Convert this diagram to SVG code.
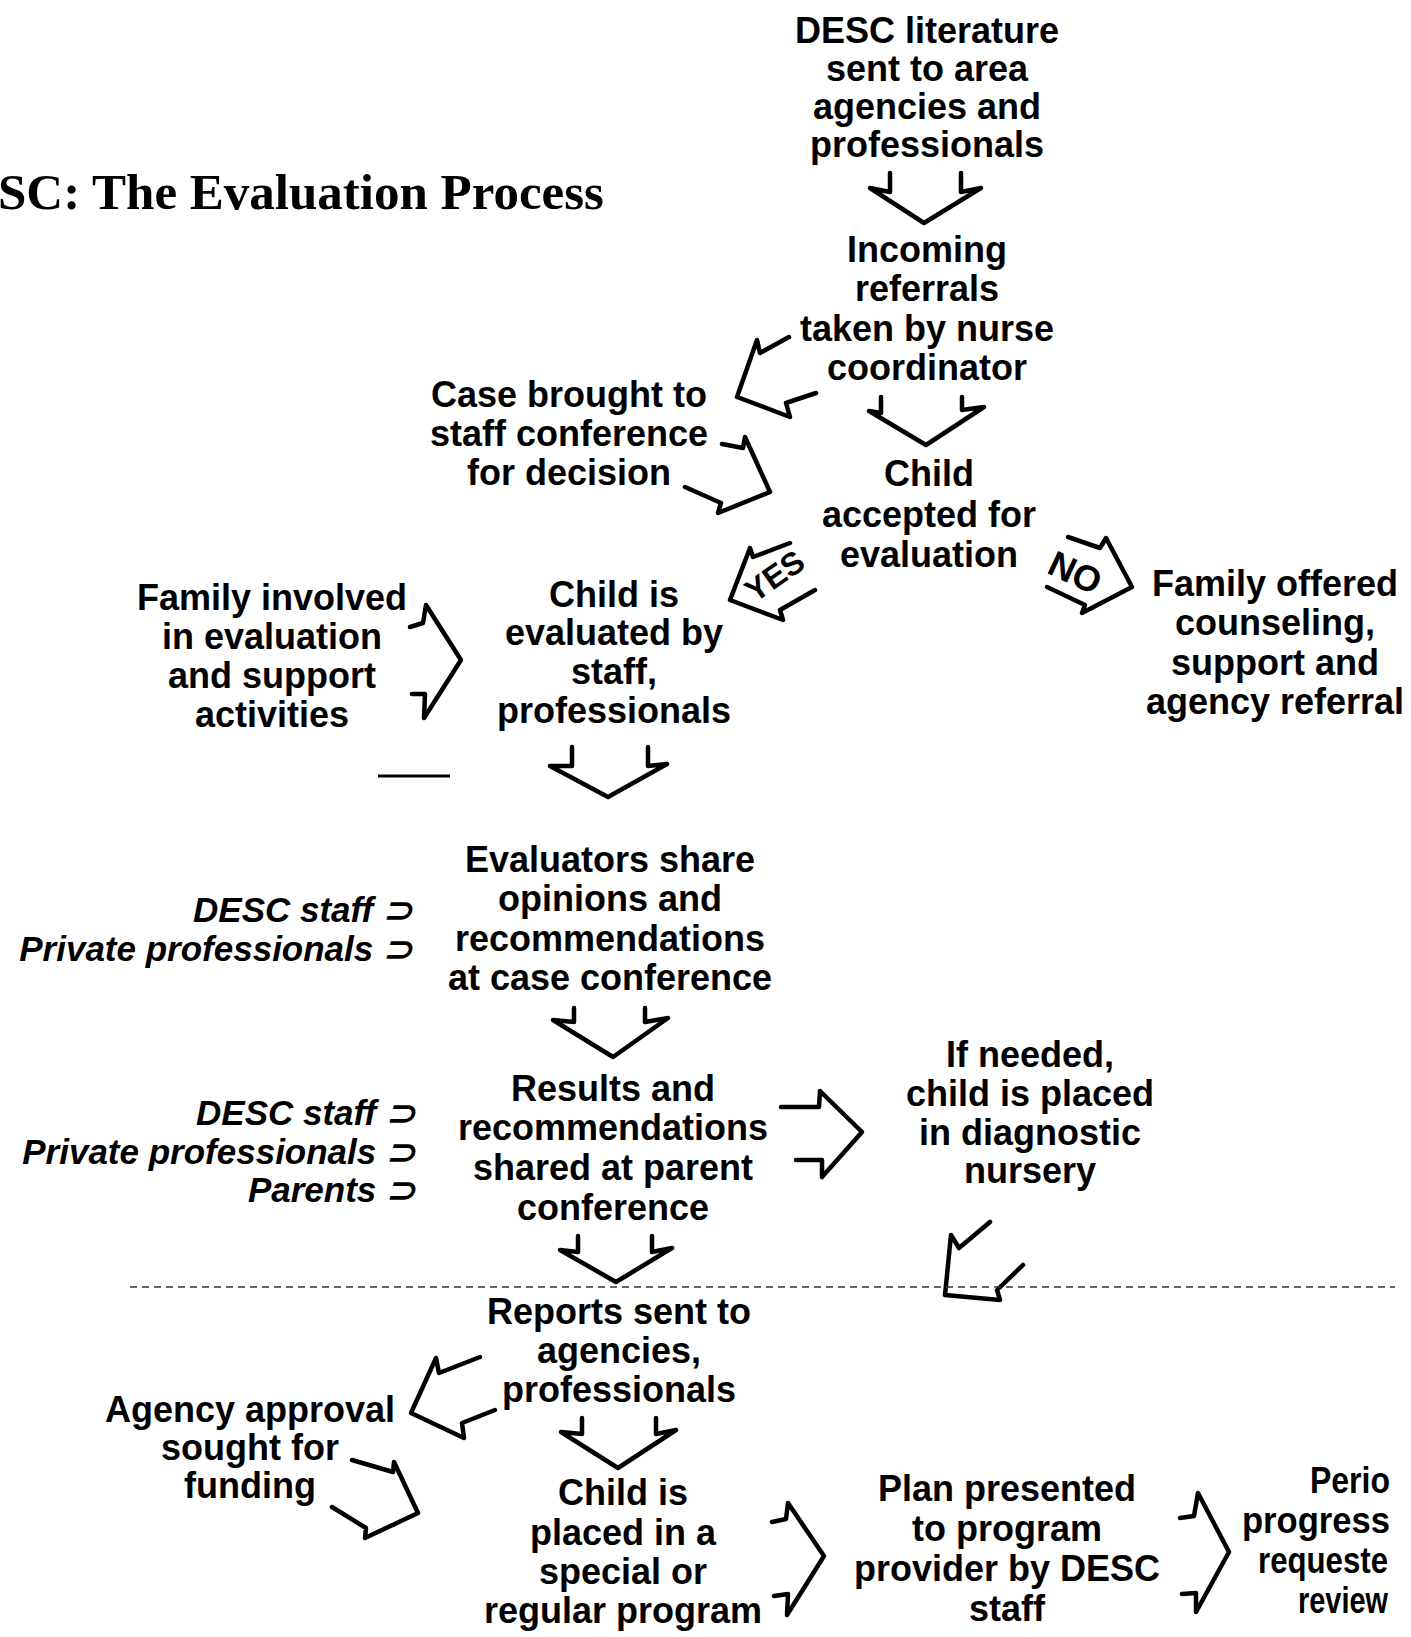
<svg xmlns="http://www.w3.org/2000/svg" width="1411" height="1637" viewBox="0 0 1411 1637">
<style>
.t{font-family:"Liberation Sans",Arial,sans-serif;font-weight:bold;font-size:36px;fill:#000;text-anchor:middle}
.l{text-anchor:start}
.i{font-family:"Liberation Sans",Arial,sans-serif;font-weight:bold;font-style:italic;font-size:35px;fill:#000;text-anchor:end}
.title{font-family:"Liberation Serif","Times New Roman",serif;font-weight:bold;font-size:51px;fill:#000}
.a{fill:none;stroke:#000;stroke-width:4.5;stroke-linejoin:round;stroke-linecap:round}
.lab{font-family:"Liberation Sans",Arial,sans-serif;font-weight:bold;fill:#000;text-anchor:middle}
.fold{fill:none;stroke:#333;stroke-width:1.5;stroke-dasharray:7 5}
</style>
<rect width="1411" height="1637" fill="#fff"/>
<text class="title" x="-2" y="209">SC: The Evaluation Process</text>

<g id="n-literature"><text class="t" x="927" y="43">DESC literature</text><text class="t" x="927" y="81">sent to area</text><text class="t" x="927" y="119">agencies and</text><text class="t" x="927" y="157">professionals</text></g>
<g id="n-incoming"><text class="t" x="927" y="262">Incoming</text><text class="t" x="927" y="301">referrals</text><text class="t" x="927" y="341">taken by nurse</text><text class="t" x="927" y="380">coordinator</text></g>
<g id="n-case"><text class="t" x="569" y="407">Case brought to</text><text class="t" x="569" y="446">staff conference</text><text class="t" x="569" y="485">for decision</text></g>
<g id="n-accepted"><text class="t" x="929" y="486">Child</text><text class="t" x="929" y="527">accepted for</text><text class="t" x="929" y="567">evaluation</text></g>
<g id="n-family"><text class="t" x="272" y="610">Family involved</text><text class="t" x="272" y="649">in evaluation</text><text class="t" x="272" y="688">and support</text><text class="t" x="272" y="727">activities</text></g>
<g id="n-evaluated"><text class="t" x="614" y="607">Child is</text><text class="t" x="614" y="645">evaluated by</text><text class="t" x="614" y="684">staff,</text><text class="t" x="614" y="723">professionals</text></g>
<g id="n-counseling"><text class="t" x="1275" y="596">Family offered</text><text class="t" x="1275" y="635">counseling,</text><text class="t" x="1275" y="675">support and</text><text class="t" x="1275" y="714">agency referral</text></g>
<g id="n-inputs1"><text class="i" x="412" y="922">DESC staff ⊃</text><text class="i" x="412" y="961">Private professionals ⊃</text></g>
<g id="n-evaluators"><text class="t" x="610" y="872">Evaluators share</text><text class="t" x="610" y="911">opinions and</text><text class="t" x="610" y="951">recommendations</text><text class="t" x="610" y="990">at case conference</text></g>
<g id="n-inputs2"><text class="i" x="415" y="1125">DESC staff ⊃</text><text class="i" x="415" y="1164">Private professionals ⊃</text><text class="i" x="415" y="1202">Parents ⊃</text></g>
<g id="n-results"><text class="t" x="613" y="1101">Results and</text><text class="t" x="613" y="1140">recommendations</text><text class="t" x="613" y="1180">shared at parent</text><text class="t" x="613" y="1220">conference</text></g>
<g id="n-nursery"><text class="t" x="1030" y="1067">If needed,</text><text class="t" x="1030" y="1106">child is placed</text><text class="t" x="1030" y="1145">in diagnostic</text><text class="t" x="1030" y="1183">nursery</text></g>
<g id="n-reports"><text class="t" x="619" y="1324">Reports sent to</text><text class="t" x="619" y="1363">agencies,</text><text class="t" x="619" y="1402">professionals</text></g>
<g id="n-agency"><text class="t" x="250" y="1422">Agency approval</text><text class="t" x="250" y="1460">sought for</text><text class="t" x="250" y="1498">funding</text></g>
<g id="n-placed"><text class="t" x="623" y="1505">Child is</text><text class="t" x="623" y="1545">placed in a</text><text class="t" x="623" y="1584">special or</text><text class="t" x="623" y="1623">regular program</text></g>
<g id="n-plan"><text class="t" x="1007" y="1501">Plan presented</text><text class="t" x="1007" y="1541">to program</text><text class="t" x="1007" y="1581">provider by DESC</text><text class="t" x="1007" y="1621">staff</text></g>
<g id="n-periodic"><text class="t l" x="1310" y="1493" textLength="80" lengthAdjust="spacingAndGlyphs">Perio</text><text class="t l" x="1242" y="1533" textLength="148" lengthAdjust="spacingAndGlyphs">progress</text><text class="t l" x="1258" y="1573" textLength="130" lengthAdjust="spacingAndGlyphs">requeste</text><text class="t l" x="1298" y="1613" textLength="90" lengthAdjust="spacingAndGlyphs">review</text></g>

<g id="connectors">
<path class="a" d="M890,173 L890,192 L870,188 L924,223 L981,188 L961,192 L961,173"/>
<path class="a" d="M881,397 L881,413 L869,411 L926,445 L984,407 L962,410 L962,397"/>
<path class="a" d="M789,337 L760,353 L757,340 L737,397 L790,417 L786,403 L816,393"/>
<path class="a" d="M722,444 L743,448 L745,437 L770,492 L718,513 L721,503 L685,487"/>
<path class="a" d="M790,543 L753,557 L750,548 L730,600 L783,620 L780,610 L815,590"/>
<text class="lab" font-size="32" transform="translate(781,585) rotate(-35)">YES</text>
<path class="a" d="M1068,537 L1100,548 L1106,538 L1132,587 L1082,613 L1085,605 L1047,587"/>
<text class="lab" font-size="36" transform="translate(1070,584) rotate(25)">NO</text>
<path class="a" d="M410,627 L423,623 L426,605 L461,660 L424,718 L425,694 L412,694"/>
<path class="a" d="M572,747 L572,766 L550,766 L608,797 L667,764 L648,766 L648,747"/>
<path class="a" d="M574,1008 L574,1022 L553,1020 L613,1057 L668,1018 L645,1022 L645,1008"/>
<path class="a" d="M781,1107 L819,1107 L820,1091 L862,1132 L822,1177 L822,1160 L796,1160"/>
<path class="a" d="M578,1236 L578,1252 L560,1250 L616,1282 L672,1248 L652,1252 L652,1236"/>
<path class="a" d="M990,1222 L959,1248 L951,1235 L945,1295 L1000,1300 L997,1290 L1023,1265"/>
<path class="a" d="M480,1357 L439,1373 L436,1358 L411,1413 L464,1438 L462,1423 L495,1410"/>
<path class="a" d="M582,1418 L582,1434 L561,1432 L618,1468 L676,1430 L656,1434 L656,1418"/>
<path class="a" d="M352,1460 L393,1472 L394,1462 L418,1513 L365,1538 L366,1528 L332,1507"/>
<path class="a" d="M772,1522 L786,1519 L788,1503 L824,1556 L787,1615 L788,1594 L774,1596"/>
<path class="a" d="M1180,1518 L1194,1516 L1198,1493 L1229,1552 L1196,1612 L1196,1593 L1182,1594"/>
</g>
<line x1="378" y1="776" x2="450" y2="776" stroke="#000" stroke-width="3"/>
<line class="fold" x1="130" y1="1287" x2="1395" y2="1287"/>
</svg>
